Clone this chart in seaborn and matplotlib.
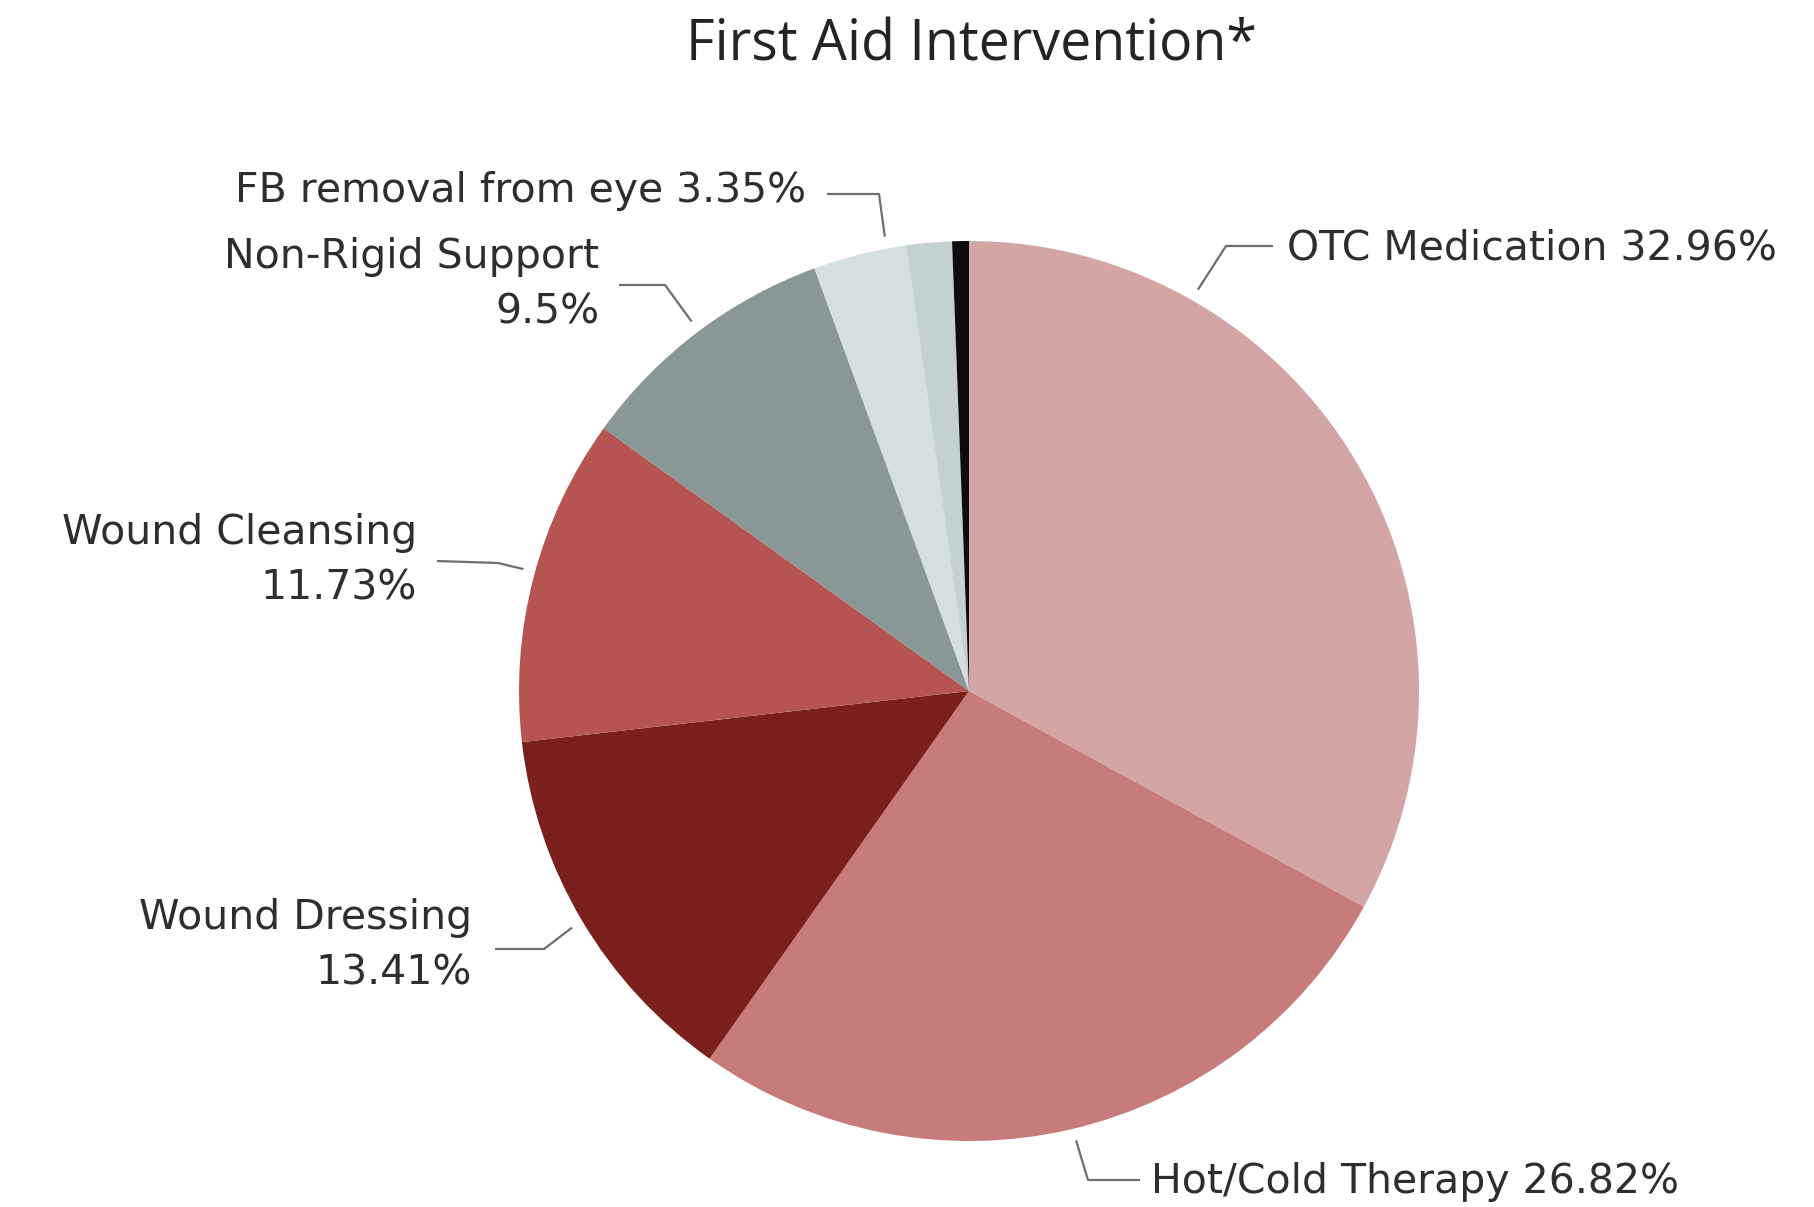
import numpy as np
import pandas as pd
import matplotlib
matplotlib.use("Agg")
import matplotlib.pyplot as plt
import seaborn as sns

# Datos
categorias = ['OTC Medication', 'Hot/Cold Therapy', 'Wound Dressing', 'Wound Cleansing',
              'Non-Rigid Support', 'FB removal from eye', 'Other', 'Other (2)']
porcentajes = [32.96, 26.82, 13.41, 11.73, 9.5, 3.35, 1.63, 0.6]
etiquetas = ['OTC Medication 32.96%', 'Hot/Cold Therapy 26.82%', 'Wound Dressing\n13.41%',
             'Wound Cleansing\n11.73%', 'Non-Rigid Support\n9.5%', 'FB removal from eye 3.35%',
             None, None]
colores = ['#d4a5a5', '#c87b7b', '#7b1f1d', '#b55450', '#8a9797', '#d4dfe1', '#c3d1d3', '#0d0d0d']

df = pd.DataFrame({'categoria': categorias, 'pct': porcentajes})

sns.set_style('white')
plt.rcParams['font.family'] = ['DejaVu Sans']

W, H = 1814, 1207
fig = plt.figure(figsize=(W / 100, H / 100), dpi=100)
ax = fig.add_axes([0, 0, 1, 1])

cx, cy, R = 969, H - 691, 450
ax.pie(df['pct'], colors=colores, startangle=90, counterclock=False,
       center=(cx, cy), radius=R, wedgeprops=dict(linewidth=0))

# Etiquetas con lineas guia: (angulo en borde, codo, fin de linea, pos texto, alineacion)
guias = [
    (60.3, (1226, 246), (1273, 246), (1287, 248), 'left'),
    (-76.6, (1088, 1180), (1140, 1180), (1151, 1182), 'left'),
    (210.8, (544, 949), (495, 949), (472, 946), 'right'),
    (164.7, (498, 563), (437, 561), (417, 561), 'right'),
    (126.9, (665, 285), (619, 285), (599, 285), 'right'),
    (100.5, (879, 194), (827, 194), (806, 191), 'right'),
]
for (ang, codo, fin, pos, ha), txt in zip(guias, etiquetas):
    a = np.deg2rad(ang)
    x0, y0 = cx + 462 * np.cos(a), cy + 462 * np.sin(a)
    xs = [x0, codo[0], fin[0]]
    ys = [y0, H - codo[1], H - fin[1]]
    ax.plot(xs, ys, color='#6e6e6e', lw=1.6, solid_capstyle='butt')
    ax.text(pos[0], H - pos[1], txt, ha=ha, va='center', fontsize=29.5,
            color='#2e2e2e', linespacing=1.5)

ax.text(971, H - 46, 'First Aid Intervention*', ha='center', va='center',
        fontsize=40, color='#252423', family=['Open Sans', 'DejaVu Sans'])

ax.set_xlim(0, W)
ax.set_ylim(0, H)
ax.set_aspect('equal')
ax.axis('off')

plt.savefig('out.png', dpi=100, facecolor='white')
